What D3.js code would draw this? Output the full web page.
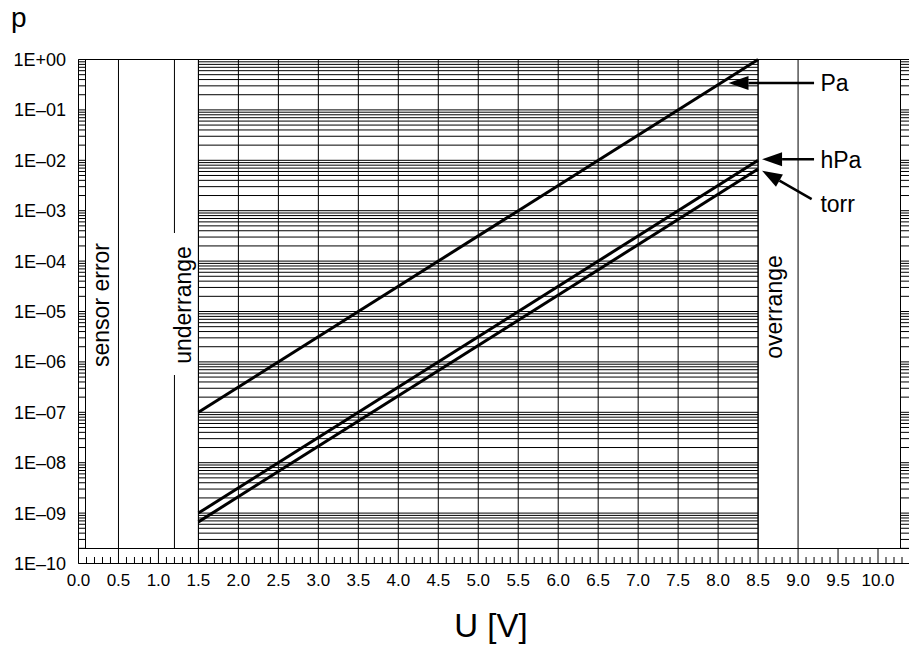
<!DOCTYPE html>
<html><head><meta charset="utf-8">
<script src="https://cdn.jsdelivr.net/npm/d3@7"></script>
<style>
body{margin:0;background:#fff}
svg{display:block}
text{font-family:"Liberation Sans",Arial,Helvetica,sans-serif;fill:#000}
</style>
</head><body>
<svg id="chart" width="909" height="648"></svg>
<script>
// ---------- data ----------
const xTickValues = [0,0.5,1,1.5,2,2.5,3,3.5,4,4.5,5,5.5,6,6.5,7,7.5,8,8.5,9,9.5,10];
const xTickLabels = ["0.0","0.5","1.0","1.5","2.0","2.5","3.0","3.5","4.0","4.5","5.0","5.5","6.0","6.5","7.0","7.5","8.0","8.5","9.0","9.5","10.0"];
const yTickValues = [1e0,1e-1,1e-2,1e-3,1e-4,1e-5,1e-6,1e-7,1e-8,1e-9,1e-10];
const yTickLabels = ["1E+00","1E\u201301","1E\u201302","1E\u201303","1E\u201304","1E\u201305","1E\u201306","1E\u201307","1E\u201308","1E\u201309","1E\u201310"];
const minorMantissas = [2,3,4,5,6,7,8,9];

const voltage = [1.5, 8.5];
const pressurePa   = [1e-7, 1e0];
const pressureHPa  = [1e-9, 1e-2];
const pressureTorr = [6.7e-10, 6.7e-3];

const seriesNames = ["Pa","hPa","torr"];

// region boundaries in volts
const sensorErrorEnd = 0.5;
const underrangeLine = 1.2;
const measureStart = 1.5;
const measureEnd = 8.5;
const overrangeLine = 9.0;

// ---------- scales ----------
const svg = d3.select("#chart");
const x = d3.scaleLinear().domain([0, 10.3]).range([78.5, 902]);
const y = d3.scaleLog().domain([1e-10, 1]).range([563.5, 59.5]);

const topY = 59.5, boxBottom = 548.5, rulerBottom = 563.5;
const leftRulerL = 78.5, leftRulerR = 85.5;
const rightBoxR = 900.5, rightRulerR = 909;

svg.append("rect").attr("width",909).attr("height",648).attr("fill","#fff");

// ---------- horizontal grid in measuring range ----------
const gridVals = [];
for (let k = 0; k >= -10; k--) {
  gridVals.push({v: Math.pow(10,k), major: true});
  for (const m of minorMantissas) gridVals.push({v: m*Math.pow(10,k-1), major: false});
}
const gv = gridVals.filter(d => y(d.v) >= topY - 0.1 && y(d.v) <= boxBottom);
svg.append("g").selectAll("line").data(gv).join("line")
  .attr("x1", x(measureStart)).attr("x2", x(measureEnd))
  .attr("y1", d => y(d.v)).attr("y2", d => y(d.v))
  .attr("stroke", "#000").attr("stroke-width", 1);

// vertical grid lines every 0.5 V in measuring range
const vGrid = xTickValues.filter(v => v > measureStart && v < measureEnd);
svg.append("g").selectAll("line").data(vGrid).join("line")
  .attr("x1", d => x(d)).attr("x2", d => x(d))
  .attr("y1", topY).attr("y2", boxBottom)
  .attr("stroke", "#000").attr("stroke-width", 1);

// ---------- boxes ----------
const box = (x1,x2,col) => svg.append("rect")
  .attr("x", x1).attr("y", topY).attr("width", x2-x1).attr("height", boxBottom-topY)
  .attr("fill","none").attr("stroke", col).attr("stroke-width",1);
box(leftRulerR, x(measureStart), "#000");
box(x(measureStart), x(measureEnd), "#000");
box(x(measureEnd), rightBoxR, "#000");

// region lines
svg.append("line").attr("x1", x(sensorErrorEnd)).attr("x2", x(sensorErrorEnd))
  .attr("y1", topY).attr("y2", boxBottom).attr("stroke","#000");
const ux = x(underrangeLine);
svg.append("line").attr("x1", ux).attr("x2", ux).attr("y1", topY).attr("y2", 233).attr("stroke","#000");
svg.append("line").attr("x1", ux).attr("x2", ux).attr("y1", 375).attr("y2", boxBottom).attr("stroke","#000");
svg.append("line").attr("x1", x(overrangeLine)).attr("x2", x(overrangeLine))
  .attr("y1", topY).attr("y2", boxBottom).attr("stroke","#000");

// ---------- y rulers ----------
const rulerVals = gridVals.filter(d => y(d.v) >= topY - 0.1 && y(d.v) <= boxBottom);
const rulers = [[leftRulerL, leftRulerR],[rightBoxR, rightRulerR]];
rulers.forEach(([a,b]) => {
  svg.append("g").selectAll("line").data(rulerVals).join("line")
    .attr("x1", a).attr("x2", b)
    .attr("y1", d => y(d.v)).attr("y2", d => y(d.v))
    .attr("stroke","#000");
});
svg.append("line").attr("x1", leftRulerL).attr("x2", leftRulerL).attr("y1", topY).attr("y2", rulerBottom).attr("stroke","#000");
svg.append("line").attr("x1", leftRulerL).attr("x2", leftRulerR).attr("y1", topY).attr("y2", topY).attr("stroke","#000");

// ---------- x ruler ----------
svg.append("line").attr("x1", leftRulerL).attr("x2", rightRulerR).attr("y1", boxBottom).attr("y2", boxBottom).attr("stroke","#000");
svg.append("line").attr("x1", leftRulerL).attr("x2", rightRulerR).attr("y1", rulerBottom).attr("y2", rulerBottom).attr("stroke","#000");
const minorX = d3.range(0, 104).map(i => i/10).filter(v => Math.abs(v*2 - Math.round(v*2)) > 1e-6);
svg.append("g").selectAll("line").data(minorX).join("line")
  .attr("x1", d => x(d)).attr("x2", d => x(d))
  .attr("y1", 557).attr("y2", rulerBottom).attr("stroke","#000");
svg.append("g").selectAll("line").data(xTickValues).join("line")
  .attr("x1", d => x(d)).attr("x2", d => x(d))
  .attr("y1", boxBottom).attr("y2", rulerBottom).attr("stroke","#000");

// tick labels
svg.append("g").selectAll("text").data(xTickValues).join("text")
  .attr("x", d => x(d)).attr("y", 586).attr("text-anchor","middle")
  .attr("font-size", 17).text((d,i) => xTickLabels[i]);
svg.append("g").selectAll("text").data(yTickValues).join("text")
  .attr("x", 66).attr("y", d => y(d)).attr("dy","0.36em").attr("text-anchor","end")
  .attr("font-size", 18).text((d,i) => yTickLabels[i]);

// ---------- data lines ----------
const line = d3.line().x(d => x(d[0])).y(d => y(d[1]));
[pressurePa, pressureHPa, pressureTorr].forEach(series => {
  svg.append("path").attr("d", line(voltage.map((v,i) => [v, series[i]])))
    .attr("fill","none").attr("stroke","#000").attr("stroke-width",3);
});

// ---------- region labels ----------
const vlabel = (px, py, t) => svg.append("text")
  .attr("transform", `translate(${px},${py}) rotate(-90)`)
  .attr("text-anchor","middle").attr("font-size", 23).text(t);
vlabel(x(0.38), 305, "sensor error");
vlabel(x(1.41), 305, "underrange");
vlabel(x(8.8), 307, "overrange");

// ---------- annotations ----------
const annotations = [
  {name: seriesNames[0], tail:[9.2, 0.34],  tip:[8.13, 0.34],  tx: 9.28, ty: 0.34},
  {name: seriesNames[1], tail:[9.2, 0.0105], tip:[8.55, 0.0105], tx: 9.28, ty: 0.0105},
  {name: seriesNames[2], tail:[9.17,0.0017], tip:[8.55, 0.0062], tx: 9.28, ty: 0.0014}
];
annotations.forEach(a => {
  const x1 = x(a.tail[0]), y1 = y(a.tail[1]), x2 = x(a.tip[0]), y2 = y(a.tip[1]);
  const ang = Math.atan2(y2-y1, x2-x1);
  const L = 20, W = 7;
  const bx = x2 - L*Math.cos(ang), by = y2 - L*Math.sin(ang);
  svg.append("line").attr("x1",x1).attr("y1",y1).attr("x2",bx).attr("y2",by)
    .attr("stroke","#000").attr("stroke-width",2.5);
  svg.append("polygon").attr("points", [
    [x2,y2],
    [bx + W*Math.sin(ang), by - W*Math.cos(ang)],
    [bx - W*Math.sin(ang), by + W*Math.cos(ang)]
  ].map(p => p.join(",")).join(" ")).attr("fill","#000");
  svg.append("text").attr("x", x(a.tx)).attr("y", y(a.ty)).attr("dy","0.36em")
    .attr("font-size", 23).text(a.name);
});

// ---------- axis titles ----------
svg.append("text").attr("x", 11).attr("y", 27).attr("font-size", 28).text("p");
svg.append("text").attr("x", 491).attr("y", 637).attr("text-anchor","middle").attr("font-size", 33).text("U [V]");
</script>
</body></html>
